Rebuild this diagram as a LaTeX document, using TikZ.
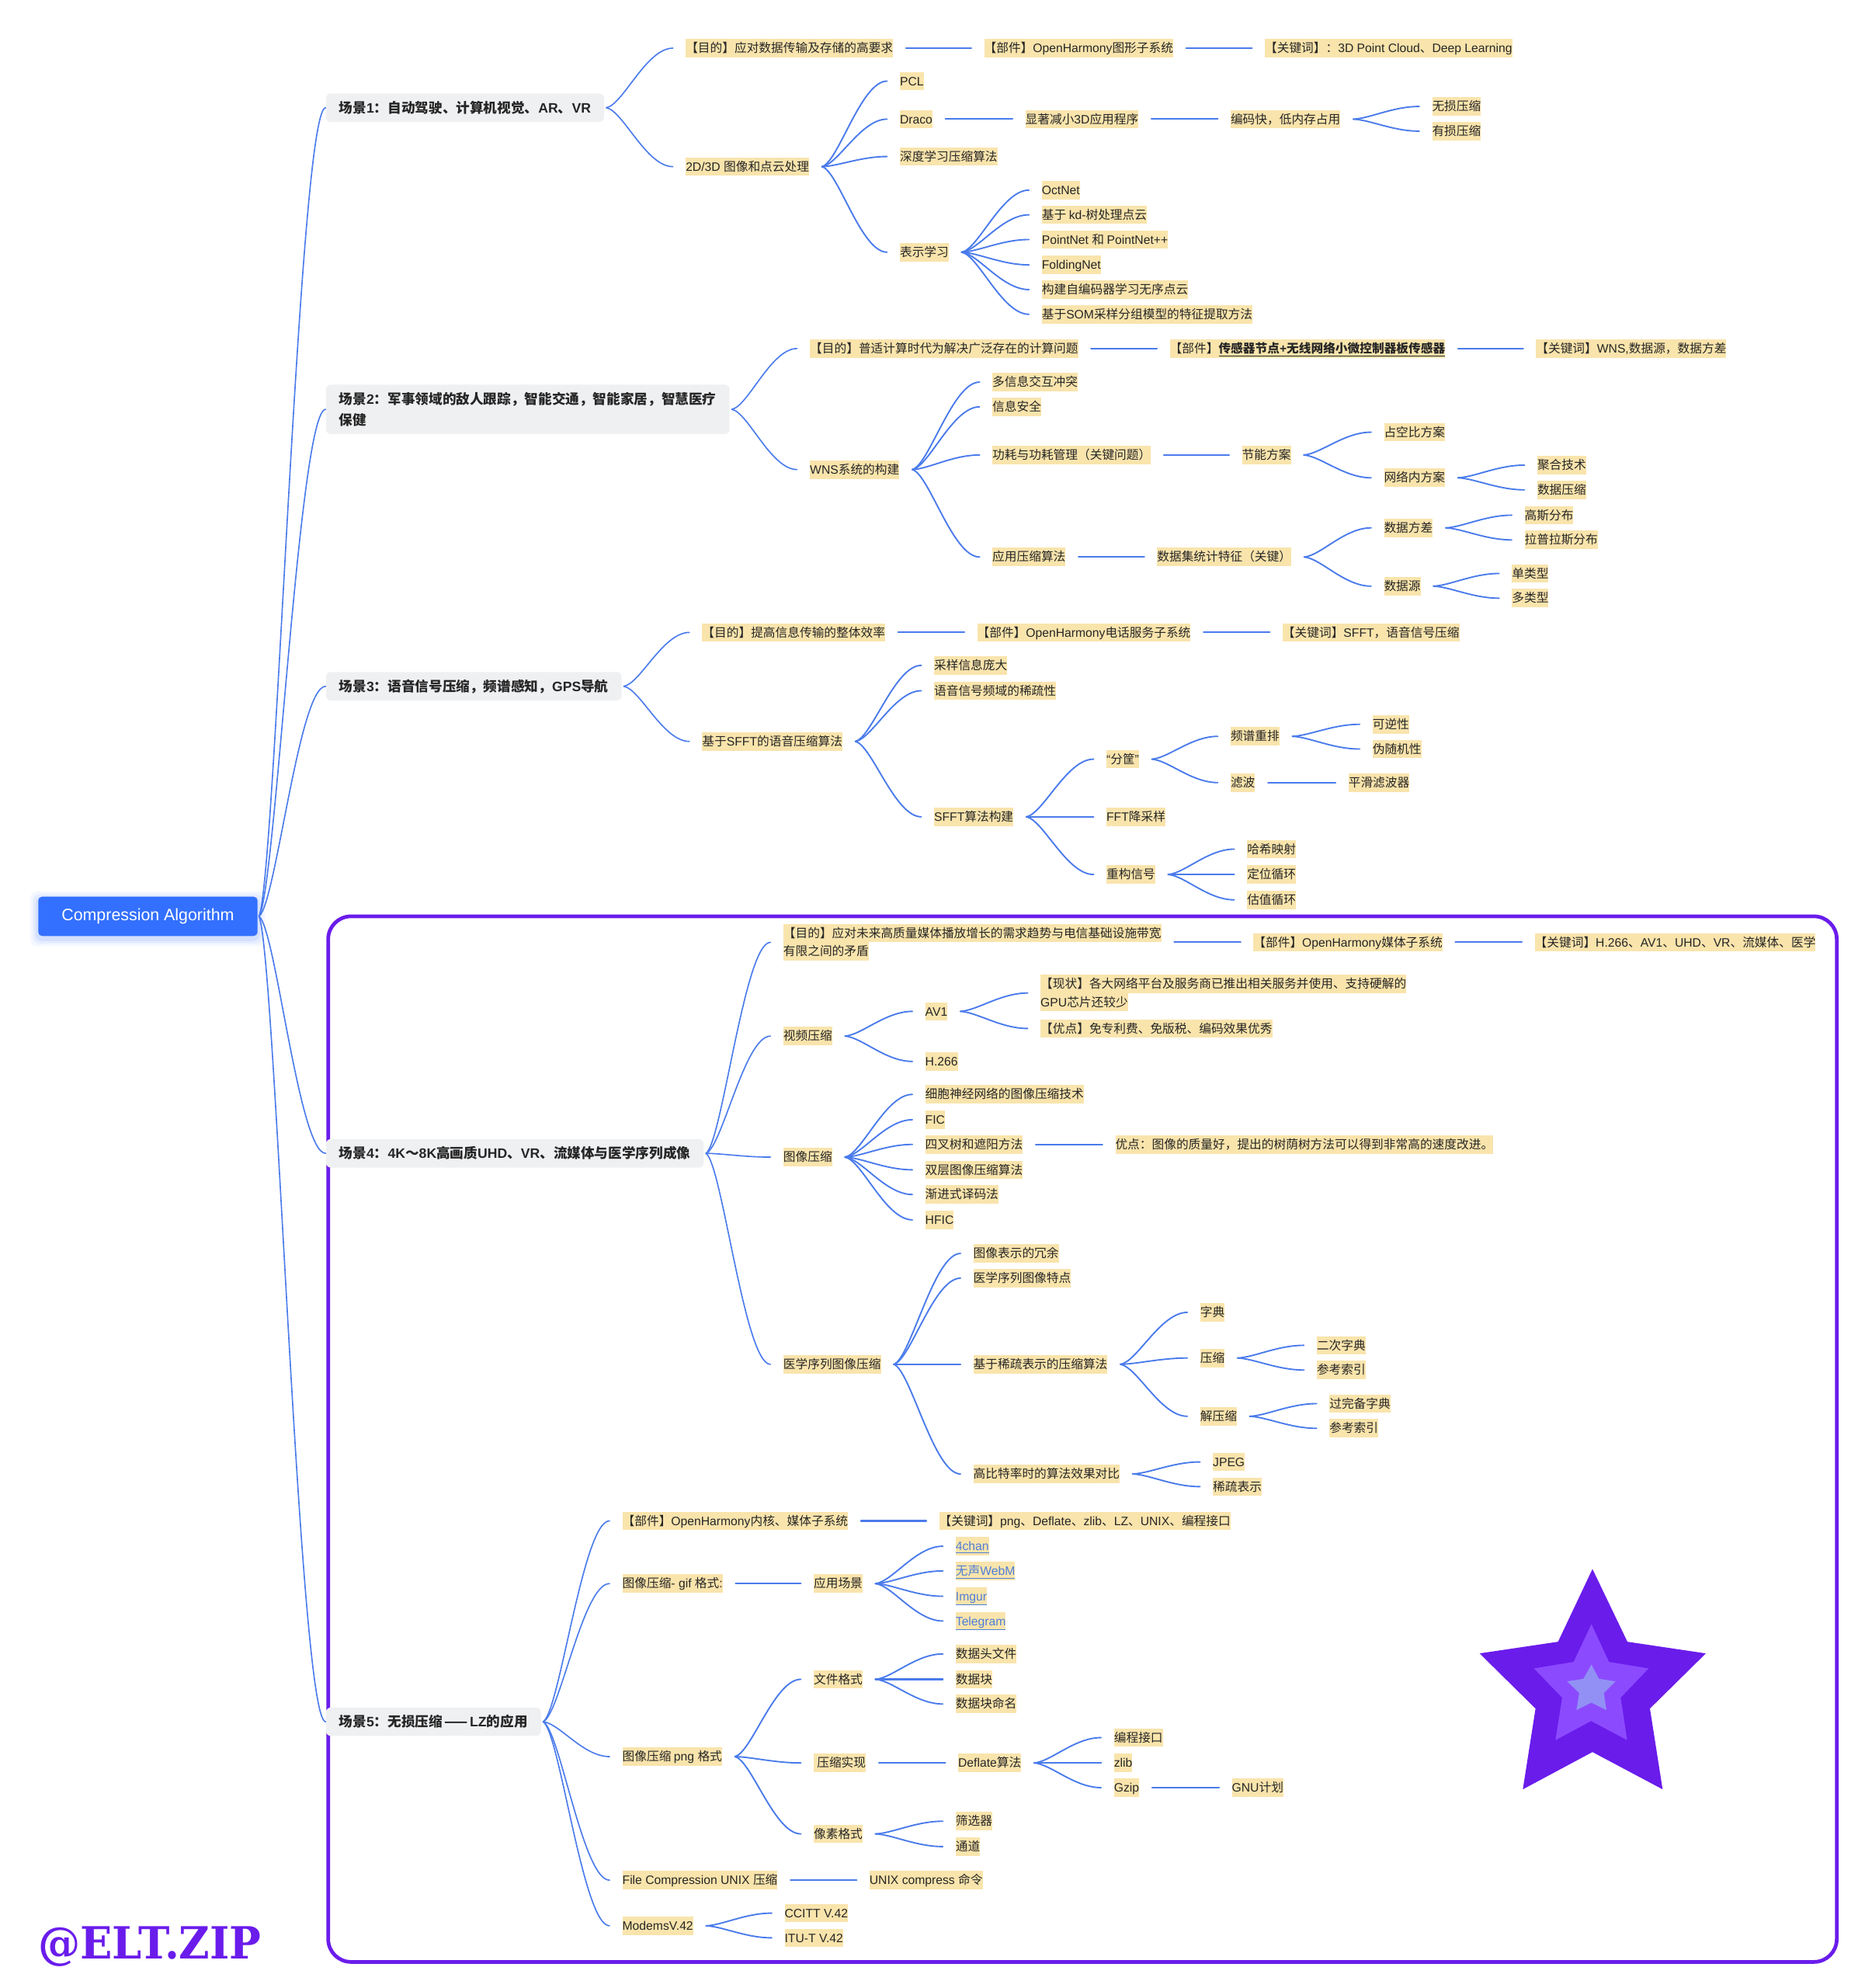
\documentclass[tikz,border=0pt]{standalone}
\usepackage{fontspec}
\usetikzlibrary{calc}
\setmainfont{Liberation Sans}
\newfontfamily\latinf{Liberation Sans}
\newfontfamily\cjkf{Noto Sans CJK SC}
\newfontfamily\wmf{DejaVu Serif}
% automatic font switch between Latin and CJK characters
\XeTeXinterchartokenstate=1
\chardef\cjkclass=7
\newcount\cjkcnt
\newcommand\cjkrange[2]{\cjkcnt=#1\relax\loop\XeTeXcharclass\cjkcnt=\cjkclass\relax\ifnum\cjkcnt<#2\relax\advance\cjkcnt by 1\repeat}
\cjkrange{"3000}{"30FF}
\cjkrange{"4E00}{"9FFF}
\cjkrange{"FF00}{"FFEF}
\cjkrange{"2014}{"2014}
\XeTeXcharclass"201C=0
\XeTeXcharclass"201D=0
\XeTeXinterchartoks 0 \cjkclass={\cjkf}
\XeTeXinterchartoks 4095 \cjkclass={\cjkf}
\XeTeXinterchartoks \cjkclass 0={\latinf}
\XeTeXinterchartoks 4095 0={\latinf}
\definecolor{hlc}{HTML}{F9E4AC}
\definecolor{grayc}{HTML}{EFF0F2}
\definecolor{linec}{HTML}{4A7BEB}
\definecolor{inkc}{HTML}{262626}
\definecolor{rootc}{HTML}{3370FF}
\definecolor{purp}{HTML}{6A1CEB}
\definecolor{purpm}{HTML}{8C4AFF}
\definecolor{purpl}{HTML}{9290F5}
\definecolor{linkc}{HTML}{4F7FD8}
\setlength{\fboxsep}{0pt}
\newcommand\hlb[1]{\colorbox{hlc}{\rule[-3.8pt]{0pt}{14.5pt}#1}}
\newcommand\lk[1]{\textcolor{linkc}{\underline{#1}}}
\tikzset{
  yl/.style={anchor=west,inner sep=0pt,fill=hlc,text=inkc,text height=10.7pt,text depth=3.8pt,font=\fontsize{9.62}{14.5}\selectfont},
  ylm/.style={anchor=west,inner sep=0pt,text=inkc,align=left,font=\fontsize{9.62}{14.5}\selectfont},
  grayn/.style={anchor=west,inner xsep=10.5pt,inner ysep=0pt,fill=grayc,rounded corners=4pt,text=inkc,minimum height=22.5pt,font=\fontsize{10.8}{16.8}\selectfont\bfseries,align=left},
  rootn/.style={anchor=west,inner sep=0pt,fill=rootc,rounded corners=3pt,text=white,minimum width=173pt,minimum height=31pt,font=\fontsize{13.1}{15}\selectfont},
  conn/.style={draw=linec,line width=1.15pt,line cap=round},
  connr/.style={draw=linec,line width=1pt,line cap=round},
  conns/.style={draw=linec,line width=1.3pt,line cap=round},
  frameb/.style={draw=purp,line width=2.9pt,rounded corners=18pt}
}
\newcommand\yn[4]{\node[yl] (#1) at (#2,#3) {#4};}
\newcommand\crvg[5]{\draw[#5] let \p1=($(#1.east)+(#3,0)$), \p2=($(#2.west)+(-#4,0)$) in (\p1) .. controls ({\x1+0.25*(\x2-\x1)},{\y1+0.05*(\y2-\y1)}) and ({\x1+0.6*(\x2-\x1)},\y2) .. (\p2);}
\newcommand\crv[2]{\crvg{#1}{#2}{10}{10}{conn}}
\newcommand\crg[2]{\crvg{#1}{#2}{1.5}{10}{connr}}
\newcommand\crr[2]{\crvg{#1}{#2}{1}{0}{connr}}
\newcommand\lnk[2]{\draw[conns] ([xshift=10pt]#1.east) -- ([xshift=-10pt]#2.west);}
\begin{document}
\begin{tikzpicture}[x=1pt,y=-1pt]
\useasboundingbox (0,0) rectangle (1471.2,1568.6);
\fill[white] (0,0) rectangle (1471.2,1568.6);
% frame
\draw[frameb] (259,723) rectangle (1449.5,1548);
% root
\foreach \e/\o in {6/.05,4/.07,2/.10}{\fill[rootc,opacity=\o,rounded corners=5pt] (30-\e,707.5-\e+2) rectangle (203+\e,738.5+\e+2);}
\node[rootn] (root) at (30,723) {Compression Algorithm};
% scenes
\node[grayn] (s1) at (257,85) {场景1：自动驾驶、计算机视觉、AR、VR};
\node[grayn,minimum height=39pt] (s2) at (257,323) {场景2：军事领域的敌人跟踪，智能交通，智能家居，智慧医疗\\保健};
\node[grayn] (s3) at (257,541.5) {场景3：语音信号压缩，频谱感知，GPS导航};
\node[grayn] (s4) at (257,910) {场景4：4K～8K高画质UHD、VR、流媒体与医学序列成像};
\node[grayn] (s5) at (257,1358.5) {场景5：无损压缩\hspace{1.5pt}——\hspace{1.5pt}LZ的应用};
\crr{root}{s1}\crr{root}{s2}\crr{root}{s3}\crr{root}{s4}\crr{root}{s5}
% scene 1
\yn{a1}{541}{38}{【目的】应对数据传输及存储的高要求}
\yn{a1b}{776.5}{38}{【部件】OpenHarmony图形子系统}
\yn{a1c}{998}{38}{【关键词】：3D Point Cloud、Deep Learning}
\yn{a2}{541}{131.5}{2D/3D 图像和点云处理}
\yn{a21}{710}{64}{PCL}
\yn{a22}{710}{94}{Draco}
\yn{a23}{710}{123.5}{深度学习压缩算法}
\yn{a24}{710}{199}{表示学习}
\yn{a221}{809}{94}{显著减小3D应用程序}
\yn{a222}{971}{94}{编码快，低内存占用}
\yn{a2a}{1130}{84}{无损压缩}
\yn{a2b}{1130}{103.5}{有损压缩}
\yn{a3}{822}{150}{OctNet}
\yn{a4}{822}{169.5}{基于 kd-树处理点云}
\yn{a5}{822}{189}{PointNet 和 PointNet++}
\yn{a6}{822}{209}{FoldingNet}
\yn{a7}{822}{228.5}{构建自编码器学习无序点云}
\yn{a8}{822}{248}{基于SOM采样分组模型的特征提取方法}
\crg{s1}{a1}\crg{s1}{a2}\lnk{a1}{a1b}\lnk{a1b}{a1c}
\crv{a2}{a21}\crv{a2}{a22}\crv{a2}{a23}\crv{a2}{a24}
\lnk{a22}{a221}\lnk{a221}{a222}\crv{a222}{a2a}\crv{a222}{a2b}
\crv{a24}{a3}\crv{a24}{a4}\crv{a24}{a5}\crv{a24}{a6}\crv{a24}{a7}\crv{a24}{a8}
% scene 2
\yn{b1}{639}{275}{【目的】普适计算时代为解决广泛存在的计算问题}
\yn{b1b}{923}{275}{【部件】{\bfseries\underline{传感器节点+无线网络小微控制器板传感器}}}
\yn{b1c}{1212}{275}{【关键词】WNS,数据源，数据方差}
\yn{b2}{639}{370.5}{WNS系统的构建}
\yn{b3}{783}{301.5}{多信息交互冲突}
\yn{b4}{783}{321}{信息安全}
\yn{b5}{783}{359}{功耗与功耗管理（关键问题）}
\yn{b6}{783}{439.5}{应用压缩算法}
\yn{b7}{980}{359}{节能方案}
\yn{b8}{1092}{341}{占空比方案}
\yn{b9}{1092}{377}{网络内方案}
\yn{b10}{1213}{367}{聚合技术}
\yn{b11}{1213}{386.5}{数据压缩}
\yn{b12}{913}{439.5}{数据集统计特征（关键）}
\yn{b13}{1092}{416.5}{数据方差}
\yn{b14}{1092}{462.5}{数据源}
\yn{b15}{1203}{406.5}{高斯分布}
\yn{b16}{1203}{426}{拉普拉斯分布}
\yn{b17}{1193}{452.5}{单类型}
\yn{b18}{1193}{472}{多类型}
\crg{s2}{b1}\crg{s2}{b2}\lnk{b1}{b1b}\lnk{b1b}{b1c}
\crv{b2}{b3}\crv{b2}{b4}\crv{b2}{b5}\crv{b2}{b6}
\lnk{b5}{b7}\crv{b7}{b8}\crv{b7}{b9}\crv{b9}{b10}\crv{b9}{b11}
\lnk{b6}{b12}\crv{b12}{b13}\crv{b12}{b14}\crv{b13}{b15}\crv{b13}{b16}\crv{b14}{b17}\crv{b14}{b18}
% scene 3
\yn{c1}{554}{499}{【目的】提高信息传输的整体效率}
\yn{c1b}{771}{499}{【部件】OpenHarmony电话服务子系统}
\yn{c1c}{1012}{499}{【关键词】SFFT，语音信号压缩}
\yn{c2}{554}{585}{基于SFFT的语音压缩算法}
\yn{c3}{737}{525}{采样信息庞大}
\yn{c4}{737}{545}{语音信号频域的稀疏性}
\yn{c5}{737}{644.5}{SFFT算法构建}
\yn{c6}{873}{599}{“分筐”}
\yn{c7}{873}{644.5}{FFT降采样}
\yn{c8}{873}{690}{重构信号}
\yn{c9}{971}{581}{频谱重排}
\yn{c10}{971}{617.5}{滤波}
\yn{c11}{1083}{571.5}{可逆性}
\yn{c12}{1083}{591}{伪随机性}
\yn{c13}{1064}{617.5}{平滑滤波器}
\yn{c14}{984}{670}{哈希映射}
\yn{c15}{984}{690}{定位循环}
\yn{c16}{984}{710}{估值循环}
\crg{s3}{c1}\crg{s3}{c2}\lnk{c1}{c1b}\lnk{c1b}{c1c}
\crv{c2}{c3}\crv{c2}{c4}\crv{c2}{c5}
\crv{c5}{c6}\lnk{c5}{c7}\crv{c5}{c8}
\crv{c6}{c9}\crv{c6}{c10}\crv{c9}{c11}\crv{c9}{c12}\lnk{c10}{c13}
\crv{c8}{c14}\lnk{c8}{c15}\crv{c8}{c16}
% scene 4
\node[ylm] (d1) at (618,743.5) {\hlb{【目的】应对未来高质量媒体播放增长的需求趋势与电信基础设施带宽}\\\hlb{有限之间的矛盾}};
\yn{d1b}{989}{743.5}{【部件】OpenHarmony媒体子系统}
\yn{d1c}{1211}{743.5}{【关键词】H.266、AV1、UHD、VR、流媒体、医学}
\yn{d2}{618}{817.5}{视频压缩}
\yn{d21}{730}{798}{AV1}
\yn{d22}{730}{837.5}{H.266}
\node[ylm] (d23) at (821,783.5) {\hlb{【现状】各大网络平台及服务商已推出相关服务并使用、支持硬解的}\\\hlb{GPU芯片还较少}};
\yn{d24}{821}{811.5}{【优点】免专利费、免版税、编码效果优秀}
\yn{d3}{618}{913}{图像压缩}
\yn{d31}{730}{863.5}{细胞神经网络的图像压缩技术}
\yn{d32}{730}{883.5}{FIC}
\yn{d33}{730}{903}{四叉树和遮阳方法}
\yn{d34}{730}{923}{双层图像压缩算法}
\yn{d35}{730}{942.5}{渐进式译码法}
\yn{d36}{730}{962.5}{HFIC}
\yn{d37}{880}{903}{优点：图像的质量好，提出的树荫树方法可以得到非常高的速度改进。}
\yn{d4}{618}{1076.5}{医学序列图像压缩}
\yn{d41}{768}{989}{图像表示的冗余}
\yn{d42}{768}{1008.5}{医学序列图像特点}
\yn{d43}{768}{1076.5}{基于稀疏表示的压缩算法}
\yn{d44}{768}{1163}{高比特率时的算法效果对比}
\yn{d45}{947}{1035.5}{字典}
\yn{d46}{947}{1071.5}{压缩}
\yn{d47}{947}{1117.5}{解压缩}
\yn{d48}{1039}{1061.5}{二次字典}
\yn{d49}{1039}{1081}{参考索引}
\yn{d50}{1049}{1107.5}{过完备字典}
\yn{d51}{1049}{1127}{参考索引}
\yn{d52}{957}{1153.5}{JPEG}
\yn{d53}{957}{1173}{稀疏表示}
\crg{s4}{d1}\crg{s4}{d2}\crg{s4}{d3}\crg{s4}{d4}\lnk{d1}{d1b}\lnk{d1b}{d1c}
\crv{d2}{d21}\crv{d2}{d22}\crv{d21}{d23}\crv{d21}{d24}
\crv{d3}{d31}\crv{d3}{d32}\crv{d3}{d33}\crv{d3}{d34}\crv{d3}{d35}\crv{d3}{d36}\lnk{d33}{d37}
\crv{d4}{d41}\crv{d4}{d42}\lnk{d4}{d43}\crv{d4}{d44}
\crv{d43}{d45}\crv{d43}{d46}\crv{d43}{d47}
\crv{d46}{d48}\crv{d46}{d49}\crv{d47}{d50}\crv{d47}{d51}\crv{d44}{d52}\crv{d44}{d53}
% scene 5
\yn{e1}{491}{1200}{【部件】OpenHarmony内核、媒体子系统}
\yn{e1b}{741}{1200}{【关键词】png、Deflate、zlib、LZ、UNIX、编程接口}
\yn{e2}{491}{1249.5}{图像压缩- gif 格式:}
\yn{e21}{642}{1249.5}{应用场景}
\yn{e22}{754}{1220}{\lk{4chan}}
\yn{e23}{754}{1239.5}{\lk{无声WebM}}
\yn{e24}{754}{1259.5}{\lk{Imgur}}
\yn{e25}{754}{1279}{\lk{Telegram}}
\yn{e3}{491}{1386}{图像压缩 png 格式}
\yn{e31}{642}{1325}{文件格式}
\yn{e32}{642}{1391}{\hspace*{2.6pt}压缩实现}
\yn{e33}{642}{1447}{像素格式}
\yn{e34}{754}{1305}{数据头文件}
\yn{e35}{754}{1325}{数据块}
\yn{e36}{754}{1344.5}{数据块命名}
\yn{e37}{756}{1391}{Deflate算法}
\yn{e38}{879}{1371}{编程接口}
\yn{e39}{879}{1391}{zlib}
\yn{e40}{879}{1410.5}{Gzip}
\yn{e41}{972}{1410.5}{GNU计划}
\yn{e42}{754}{1437}{筛选器}
\yn{e43}{754}{1457}{通道}
\yn{e4}{491}{1483.5}{File Compression UNIX 压缩}
\yn{e44}{686}{1483.5}{UNIX compress 命令}
\yn{e5}{491}{1519.5}{ModemsV.42}
\yn{e51}{619}{1509.5}{CCITT V.42}
\yn{e52}{619}{1529}{ITU-T V.42}
\crg{s5}{e1}\crg{s5}{e2}\crg{s5}{e3}\crg{s5}{e4}\crg{s5}{e5}
\lnk{e1}{e1b}\lnk{e2}{e21}
\crv{e21}{e22}\crv{e21}{e23}\crv{e21}{e24}\crv{e21}{e25}
\crv{e3}{e31}\crv{e3}{e32}\crv{e3}{e33}
\crv{e31}{e34}\lnk{e31}{e35}\crv{e31}{e36}
\lnk{e32}{e37}\crv{e37}{e38}\lnk{e37}{e39}\crv{e37}{e40}\lnk{e40}{e41}
\crv{e33}{e42}\crv{e33}{e43}\lnk{e4}{e44}\crv{e5}{e51}\crv{e5}{e52}
% star
\begin{scope}[shift={(1102.9,1194.9)},x=0.20425pt,y=-0.20425pt]
\fill[purp] (753,211)--(888,492)--(1191,537)--(975,750)--(1024,1062)--(753,918)--(484,1062)--(533,750)--(317,537)--(620,492)--cycle;
\fill[purpm] (749,424)--(817,570)--(970,595)--(862,708)--(887,872)--(748,798)--(610,872)--(636,708)--(527,595)--(680,570)--cycle;
\fill[purpl] (749,580)--(778,635)--(842,645)--(797,690)--(807,756)--(749,727)--(691,756)--(702,690)--(655,645)--(718,635)--cycle;
\end{scope}
% watermark
\node[anchor=base west,inner sep=0pt,text=purp,font=\wmf\fontsize{35}{40}\selectfont\bfseries,xscale=0.95] (wm) at (30,1545.5) {\XeTeXinterchartokenstate=0\relax @ELT.ZIP};
\end{tikzpicture}
\end{document}
